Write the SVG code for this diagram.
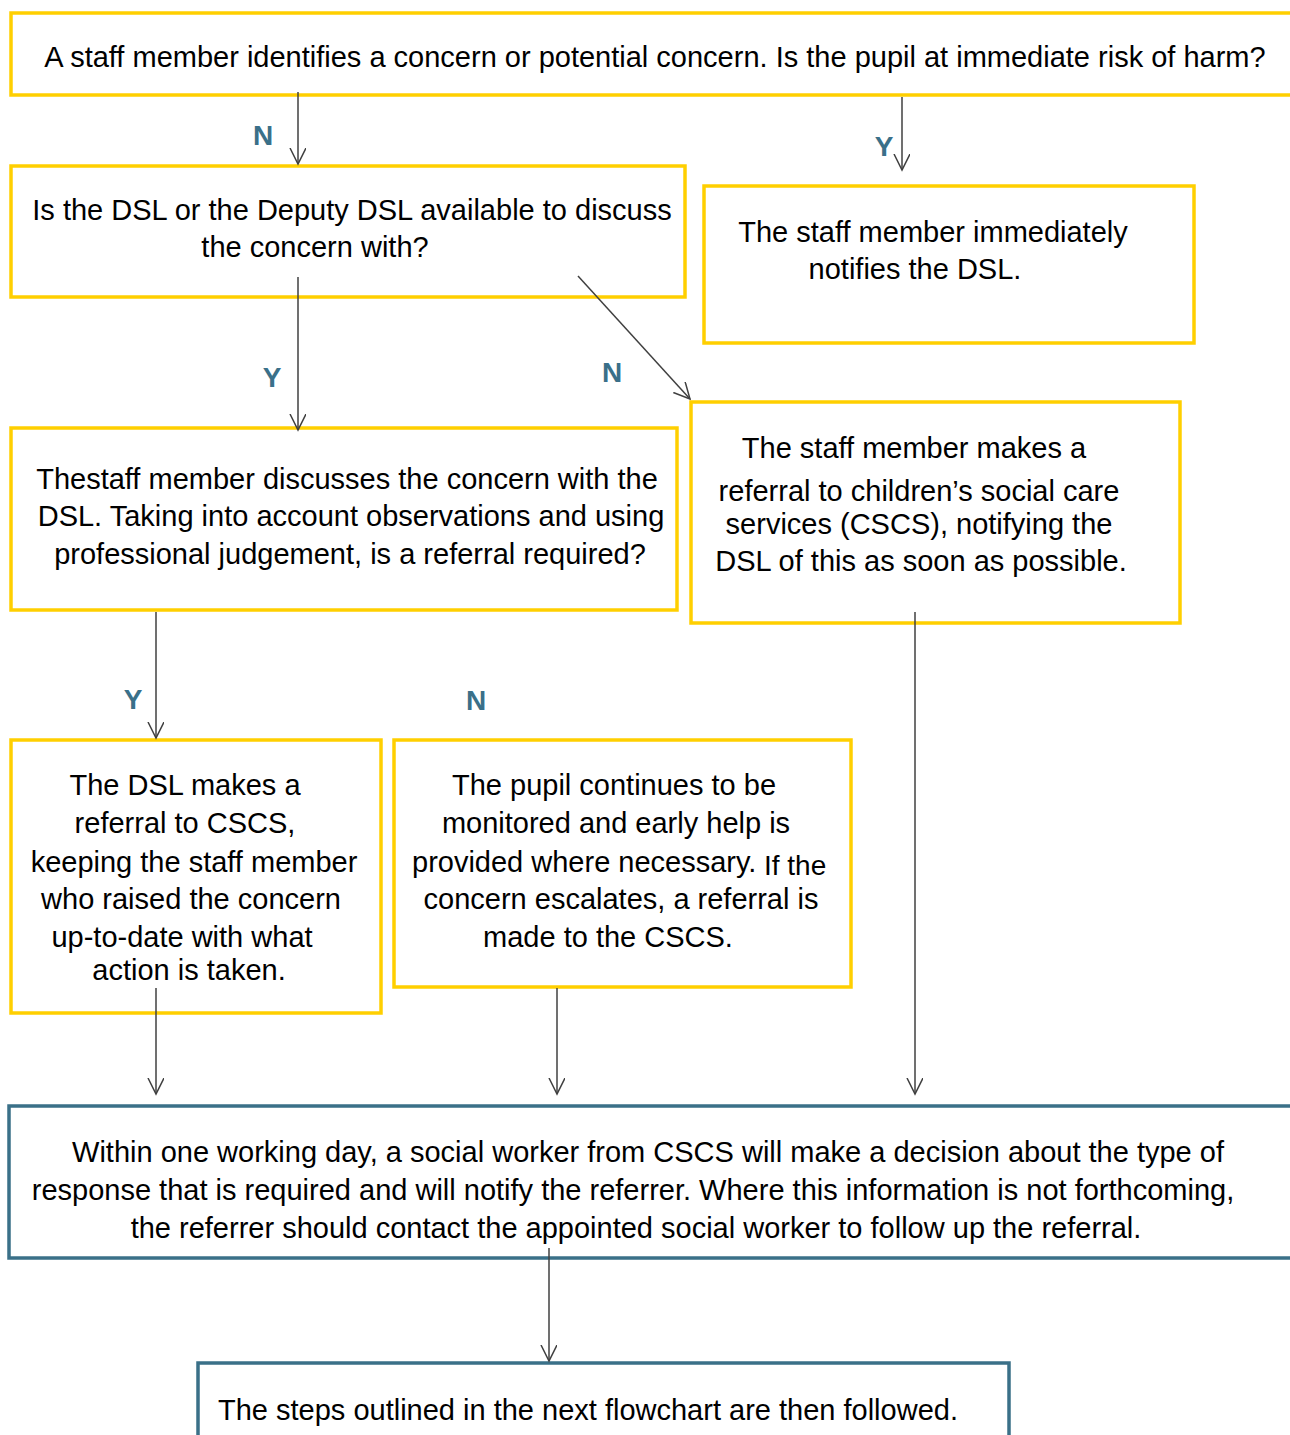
<svg xmlns="http://www.w3.org/2000/svg" width="1290" height="1435" viewBox="0 0 1290 1435">
<defs>
<marker id="arr" markerWidth="18" markerHeight="18" refX="16" refY="8" orient="auto" markerUnits="userSpaceOnUse" viewBox="0 0 18 18">
<path d="M0,0 L16,8 L0,16" fill="none" stroke="#404040" stroke-width="1.5"/>
</marker>
</defs>
<style>
.y{fill:#fff;stroke:#FFCF00;stroke-width:3.5}
.t{fill:#fff;stroke:#3A7088;stroke-width:3.5}
text{font-family:"Liberation Sans",Arial,sans-serif;font-size:29px;fill:#000}
.c{text-anchor:middle}
.lb{font-weight:bold;font-size:28px;fill:#3A7089;text-anchor:middle}
.cn line{stroke:#404040;stroke-width:1.5;marker-end:url(#arr)}
</style>
<rect width="1290" height="1435" fill="#fff"/>
<g id="n1"><rect class="y" x="11" y="13" width="1290" height="82"/>
<text class="c" x="655" y="67">A staff member identifies a concern or potential concern. Is the pupil at immediate risk of harm?</text></g>
<g id="n2"><rect class="y" x="11" y="166" width="674" height="131"/>
<text class="c" x="352" y="220">Is the DSL or the Deputy DSL available to discuss</text>
<text class="c" x="315" y="257">the concern with?</text></g>
<g id="n3"><rect class="y" x="704" y="186" width="490" height="157"/>
<text class="c" x="933" y="242">The staff member immediately</text>
<text class="c" x="915" y="279">notifies the DSL.</text></g>
<g id="n4"><rect class="y" x="11" y="428" width="666" height="182"/>
<text class="c" x="347" y="489">Thestaff member discusses the concern with the</text>
<text class="c" x="351" y="526">DSL. Taking into account observations and using</text>
<text class="c" x="350" y="564">professional judgement, is a referral required?</text></g>
<g id="n5"><rect class="y" x="691" y="402" width="489" height="221"/>
<text class="c" x="914" y="458">The staff member makes a</text>
<text class="c" x="919" y="501">referral to children’s social care</text>
<text class="c" x="919" y="534">services (CSCS), notifying the</text>
<text class="c" x="921" y="571">DSL of this as soon as possible.</text></g>
<g id="n6"><rect class="y" x="11" y="740" width="370" height="273"/>
<text class="c" x="185" y="795">The DSL makes a</text>
<text class="c" x="185" y="833">referral to CSCS,</text>
<text class="c" x="194" y="872">keeping the staff member</text>
<text class="c" x="191" y="909">who raised the concern</text>
<text class="c" x="182" y="947">up-to-date with what</text>
<text class="c" x="189" y="980">action is taken.</text></g>
<g id="n7"><rect class="y" x="394" y="740" width="457" height="247"/>
<text class="c" x="614" y="795">The pupil continues to be</text>
<text class="c" x="616" y="833">monitored and early help is</text>
<text x="412" y="872">provided where necessary.</text>
<text x="764" y="875" style="font-size:28px">If the</text>
<text class="c" x="621" y="909">concern escalates, a referral is</text>
<text class="c" x="608" y="947">made to the CSCS.</text></g>
<g id="n8"><rect class="t" x="9" y="1106" width="1292" height="152"/>
<text class="c" x="648" y="1162">Within one working day, a social worker from CSCS will make a decision about the type of</text>
<text class="c" x="633" y="1200">response that is required and will notify the referrer. Where this information is not forthcoming,</text>
<text class="c" x="636" y="1238">the referrer should contact the appointed social worker to follow up the referral.</text></g>
<g id="n9"><rect class="t" x="198" y="1363" width="811" height="100"/>
<text x="218" y="1420">The steps outlined in the next flowchart are then followed.</text></g>
<g id="connectors" class="cn">
<line x1="298" y1="92" x2="298" y2="164"/>
<line x1="902" y1="97" x2="902" y2="170"/>
<line x1="298" y1="277" x2="298" y2="430"/>
<line x1="578" y1="276" x2="690" y2="399"/>
<line x1="156" y1="612" x2="156" y2="738"/>
<line x1="915" y1="612" x2="915" y2="1094"/>
<line x1="156" y1="988" x2="156" y2="1094"/>
<line x1="557" y1="988" x2="557" y2="1094"/>
<line x1="549" y1="1248" x2="549" y2="1361"/>
</g>
<g id="labels">
<text class="lb" x="263" y="145">N</text>
<text class="lb" x="884" y="156">Y</text>
<text class="lb" x="272" y="387">Y</text>
<text class="lb" x="612" y="382">N</text>
<text class="lb" x="133" y="709">Y</text>
<text class="lb" x="476" y="710">N</text>
</g>
</svg>
